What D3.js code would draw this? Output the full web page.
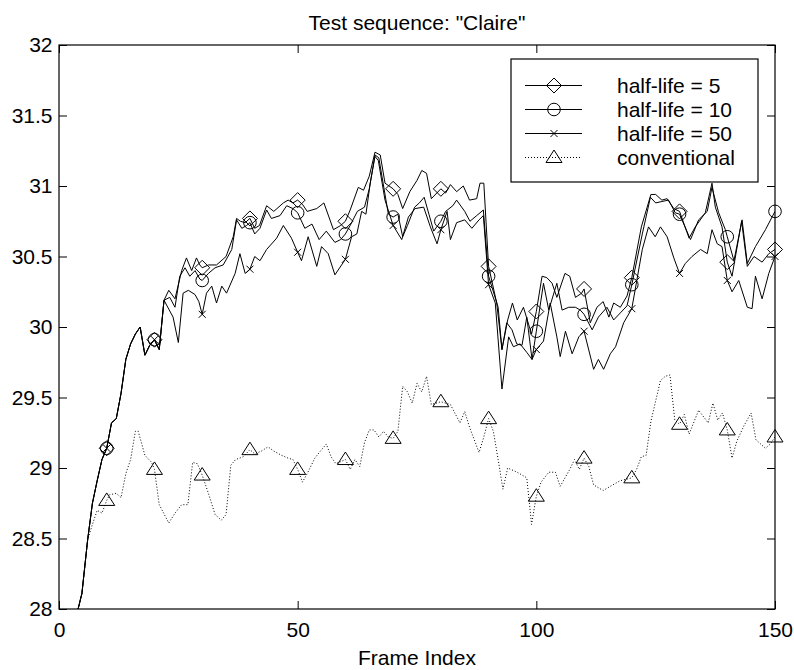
<!DOCTYPE html>
<html>
<head>
<meta charset="utf-8">
<script src="https://cdn.jsdelivr.net/npm/d3@7"></script>
<style>
body { margin: 0; background: #fff; }
text { font-family: Arial, "Liberation Sans", sans-serif; fill: #000; }
</style>
</head>
<body>
<div id="container"></div>
<script>
const w = 794
const h = 670
const plotL = 59, plotR = 775, plotT = 45, plotB = 609

const xTicks = [0, 50, 100, 150]
const yTicks = [28, 28.5, 29, 29.5, 30, 30.5, 31, 31.5, 32]
const seriesNames = ['half-life = 5', 'half-life = 10', 'half-life = 50', 'conventional']

// shared start of the three half-life curves (frame, PSNR)
const startRise = [[4,28.0],[4.8,28.11],[6,28.49],[7,28.75],[8,28.91],[9,29.06],[10,29.14],[11,29.32],[12,29.35],[13,29.53],[14,29.77],[15,29.88],[16,29.95],[17,30.0],[18,29.80],[19,29.87],[20,29.91],[21,29.84]]

const hl5 = [[22,30.19],[23,30.26],[24.3,30.2],[25.7,30.40],[26.7,30.49],[27.8,30.40],[28.8,30.49],[29.5,30.44],[30,30.42],[31.3,30.44],[33,30.44],[35,30.50],[36.5,30.64],[37.2,30.77],[38,30.75],[39,30.74],[40,30.77],[41,30.70],[42,30.72],[43.5,30.86],[45,30.82],[47,30.88],[48,30.90],[49,30.88],[50,30.90],[51,30.87],[52,30.82],[54,30.84],[55.5,30.88],[57.5,30.69],[59,30.72],[60,30.75],[61,30.83],[62.7,30.99],[63.8,30.97],[65,31.07],[66.2,31.24],[67.3,31.22],[68.3,31.02],[70,30.98],[71,30.94],[72,30.84],[73.5,30.96],[75,31.04],[76,31.11],[77,31.09],[78,30.91],[80,30.98],[81,30.95],[82,31.01],[83.3,30.96],[84.7,31.0],[86,30.90],[87.5,30.91],[88.2,31.02],[89,31.02],[90,30.43],[91.7,30.17],[92.8,29.84],[94,30.05],[95,30.17],[96,30.05],[97.3,30.14],[99,29.95],[100,30.11],[101.2,30.36],[102.2,30.35],[103.3,30.31],[104.3,30.21],[106,30.38],[107,30.36],[108.2,30.21],[109.5,30.24],[110,30.27],[111.3,30.03],[112.7,30.14],[114,30.18],[115.2,30.07],[116.2,30.17],[117.6,30.14],[119,30.22],[120,30.35],[122,30.71],[124,30.94],[125,30.94],[126.3,30.90],[127.4,30.91],[128.8,30.84],[130,30.82],[132,30.63],[133.3,30.71],[135.4,30.81],[136.8,31.02],[137.5,30.85],[138.9,30.71],[140,30.46],[141,30.36],[143,30.75],[144.2,30.43],[145.6,30.50],[147.3,30.46],[148.7,30.52],[150,30.55]]

const hl10 = [[22,30.19],[23.2,30.21],[24.3,30.14],[25.3,30.36],[26.4,30.42],[27.4,30.36],[28.5,30.40],[29.5,30.34],[30,30.33],[31.3,30.38],[32.7,30.42],[34.4,30.44],[36.2,30.55],[37.2,30.76],[38.3,30.70],[39.3,30.72],[40,30.74],[41,30.66],[42.1,30.70],[43.5,30.83],[44.5,30.77],[46.3,30.79],[47.7,30.86],[49,30.84],[50,30.81],[51.5,30.70],[53,30.73],[54.5,30.62],[56,30.68],[57.8,30.60],[59,30.62],[60,30.66],[61,30.72],[62.5,30.82],[64,30.85],[65,30.98],[66.2,31.22],[67,31.20],[68,31.00],[69,30.80],[70,30.78],[71,30.80],[72,30.64],[73,30.72],[74.5,30.85],[75.5,30.88],[76.5,30.92],[77.5,30.80],[78.5,30.68],[80,30.75],[81,30.82],[82.5,30.86],[83.3,30.90],[85,30.82],[86.1,30.75],[87.5,30.79],[88.9,30.83],[90,30.36],[92,30.14],[92.8,29.84],[93.8,30.03],[94.9,29.98],[95.9,29.88],[97,29.87],[98,30.07],[99.1,29.77],[100,29.97],[101.5,30.31],[102.6,30.12],[104.3,30.31],[105.4,30.12],[106.8,30.14],[108.2,30.14],[109.2,30.12],[110,30.09],[111.7,29.98],[113,30.07],[114.8,30.14],[116.2,30.05],[117.6,30.10],[119,30.15],[120,30.30],[122.2,30.66],[123.9,30.92],[125,30.88],[126.3,30.89],[127.7,30.90],[129.1,30.81],[130,30.80],[132.3,30.62],[134,30.76],[135.8,30.82],[136.8,30.99],[138.2,30.81],[139.6,30.69],[140,30.64],[141.4,30.47],[143.1,30.76],[144.2,30.45],[145.9,30.57],[148,30.69],[150,30.82]]

const hl50 = [[22,30.19],[23.9,30.07],[25,29.89],[26,30.24],[27.1,30.26],[28.5,30.23],[29.3,30.18],[30,30.09],[30.9,30.24],[32,30.29],[33,30.17],[34.1,30.29],[35.1,30.24],[36.9,30.38],[37.9,30.52],[39,30.38],[40,30.41],[41,30.50],[42.1,30.47],[43.5,30.55],[45.6,30.63],[47,30.72],[48.7,30.63],[50,30.53],[50.8,30.47],[52.2,30.64],[54,30.43],[55,30.57],[56.4,30.52],[57.8,30.37],[60,30.48],[61.3,30.64],[62.4,30.66],[63.4,30.82],[64.3,30.80],[65.2,31.02],[66.2,31.21],[66.9,31.18],[68.3,30.90],[70,30.72],[71.8,30.62],[73.2,30.78],[74.6,30.84],[76.4,30.85],[77.8,30.71],[79.2,30.59],[80,30.69],[81.3,30.82],[82,30.62],[83.3,30.74],[85,30.76],[86.5,30.70],[88,30.76],[88.9,30.79],[90,30.30],[91.4,30.17],[92.8,29.56],[94.2,29.93],[95.2,29.86],[96.6,29.88],[98,29.82],[99.1,29.77],[100,29.84],[101.5,29.90],[102.9,30.17],[104.3,29.93],[105,29.79],[106.1,29.97],[107.5,29.81],[108.9,29.93],[110,29.97],[112,29.70],[113,29.77],[114.1,29.70],[115.5,29.81],[116.6,29.86],[118.3,30.03],[120,30.13],[122.2,30.55],[123.5,30.71],[124.9,30.64],[126,30.71],[127.4,30.64],[128.8,30.49],[130,30.38],[131.2,30.45],[132.6,30.50],[134.4,30.55],[135.8,30.52],[136.8,30.69],[137.9,30.59],[138.9,30.57],[140,30.33],[141,30.25],[142.4,30.33],[144.2,30.14],[145.2,30.13],[145.9,30.36],[147.3,30.20],[148.7,30.38],[150,30.50]]

const conventional = [[4,28.0],[4.8,28.11],[6,28.49],[7,28.6],[8,28.70],[9,28.68],[10,28.77],[10.6,28.81],[12,28.82],[13,28.79],[14,28.96],[15,29.06],[16,29.26],[16.6,29.26],[18,29.09],[19.4,29.04],[20,28.99],[21,28.74],[23,28.61],[24.3,28.68],[25.7,28.74],[27,28.74],[28,29.04],[29,29.03],[30,28.95],[31.3,28.82],[32.7,28.67],[34,28.63],[35,28.67],[36,29.02],[37,29.06],[38.6,29.08],[40,29.13],[41,29.10],[42.4,29.12],[43.8,29.15],[45,29.12],[46.6,29.09],[48,29.07],[49,29.06],[50,28.99],[51,28.90],[52,28.96],[53.6,29.07],[55,29.13],[56,29.17],[57,29.08],[58,29.03],[60,29.06],[61,28.99],[62,29.06],[63,29.01],[64,29.18],[65,29.27],[66,29.27],[67,29.22],[68,29.26],[69,29.22],[70,29.21],[71,29.26],[72,29.58],[73,29.54],[74,29.46],[75,29.60],[76,29.54],[77,29.65],[78,29.45],[80,29.47],[82,29.45],[84,29.32],[85,29.40],[86,29.29],[88,29.11],[89,29.22],[90,29.35],[91,29.26],[92,29.06],[93,28.85],[94,29.00],[96,28.97],[98,28.93],[99,28.60],[100,28.80],[101,28.90],[102.6,28.97],[104,28.97],[105,28.87],[107,28.99],[108,29.06],[109,28.99],[110,29.07],[111,29.01],[112,28.88],[114,28.84],[116,28.88],[117.6,28.91],[120,28.93],[121,28.99],[122,29.08],[123,29.09],[124,29.33],[126,29.62],[127,29.65],[128,29.66],[129,29.34],[130,29.31],[131,29.38],[132,29.24],[134,29.41],[136,29.32],[137,29.46],[138,29.34],[139,29.39],[140,29.27],[141,29.07],[142,29.19],[143.5,29.30],[145,29.39],[146,29.20],[148,29.14],[149,29.17],[150,29.22]]

const x = d3.scaleLinear([0, 150], [plotL, plotR])
const y = d3.scaleLinear([28, 32], [plotB, plotT])

const svg = d3.select('#container')
    .append('svg')
    .attr('width', w)
    .attr('height', h)

svg.append('rect').attr('width', w).attr('height', h).attr('fill', '#fff')

svg.append('clipPath').attr('id', 'clip')
    .append('rect')
    .attr('x', plotL).attr('y', plotT)
    .attr('width', plotR - plotL).attr('height', plotB - plotT)

// marker shapes
const markerPath = {
    diamond: 'M0,-7.5L7.5,0L0,7.5L-7.5,0Z',
    cross: 'M-3.5,-3.5L3.5,3.5M-3.5,3.5L3.5,-3.5',
    triangle: 'M0,-7.5L8,5L-8,5Z'
}

function drawMarker(g, kind, cx, cy) {
    if (kind === 'circle') {
        g.append('circle').attr('cx', cx).attr('cy', cy).attr('r', 6.3)
            .attr('fill', 'none').attr('stroke', '#000').attr('stroke-width', 1)
    } else {
        g.append('path').attr('d', markerPath[kind])
            .attr('transform', `translate(${cx},${cy})`)
            .attr('fill', 'none').attr('stroke', '#000').attr('stroke-width', 1)
    }
}

const series = [
    { name: seriesNames[0], pts: startRise.concat(hl5), marker: 'diamond', dash: null },
    { name: seriesNames[1], pts: startRise.concat(hl10), marker: 'circle', dash: null },
    { name: seriesNames[2], pts: startRise.concat(hl50), marker: 'cross', dash: null },
    { name: seriesNames[3], pts: conventional, marker: 'triangle', dash: '1,2' }
]

const line = d3.line().x(d => x(d[0])).y(d => y(d[1]))

const plot = svg.append('g').attr('clip-path', 'url(#clip)')

series.forEach(s => {
    plot.append('path')
        .datum(s.pts)
        .attr('d', line)
        .attr('fill', 'none')
        .attr('stroke', '#000')
        .attr('stroke-width', 1)
        .attr('stroke-dasharray', s.dash)
    const mg = svg.append('g')
    s.pts.filter(d => d[0] % 10 === 0).forEach(d => drawMarker(mg, s.marker, x(d[0]), y(d[1])))
})

// axes (MATLAB style box with inward ticks)
const axisB = d3.axisBottom(x).tickValues(xTicks).tickSize(-8).tickPadding(13).tickFormat(d3.format('d'))
const axisT = d3.axisTop(x).tickValues(xTicks).tickSize(-8).tickFormat('')
const axisL = d3.axisLeft(y).tickValues(yTicks).tickSize(-8).tickPadding(6.5).tickFormat(d => String(d))
const axisR = d3.axisRight(y).tickValues(yTicks).tickSize(-8).tickFormat('')

function styleAxis(g) {
    g.select('.domain').remove()
    g.selectAll('line').attr('stroke', '#000')
    g.selectAll('text').attr('font-size', 21).attr('font-family', 'Arial, "Liberation Sans", sans-serif')
}

svg.append('g').attr('transform', `translate(0,${plotB})`).call(axisB).call(styleAxis)
svg.append('g').attr('transform', `translate(0,${plotT})`).call(axisT).call(styleAxis)
svg.append('g').attr('transform', `translate(${plotL},0)`).call(axisL).call(styleAxis)
svg.append('g').attr('transform', `translate(${plotR},0)`).call(axisR).call(styleAxis)

svg.append('rect')
    .attr('x', plotL).attr('y', plotT)
    .attr('width', plotR - plotL).attr('height', plotB - plotT)
    .attr('fill', 'none').attr('stroke', '#000').attr('stroke-width', 1.2)

svg.append('text')
    .attr('x', (plotL + plotR) / 2).attr('y', 29.5)
    .attr('text-anchor', 'middle').attr('font-size', 21)
    .text('Test sequence: "Claire"')

svg.append('text')
    .attr('x', (plotL + plotR) / 2).attr('y', 665)
    .attr('text-anchor', 'middle').attr('font-size', 21)
    .text('Frame Index')

// legend
const legend = svg.append('g').attr('id', 'legend')
legend.append('rect')
    .attr('x', 511).attr('y', 59).attr('width', 247).attr('height', 123)
    .attr('fill', '#fff').attr('stroke', '#000').attr('stroke-width', 1.2)

series.forEach((s, i) => {
    const cy = 85.5 + i * 24
    legend.append('line')
        .attr('x1', 525).attr('x2', 582).attr('y1', cy).attr('y2', cy)
        .attr('stroke', '#000').attr('stroke-width', 1)
        .attr('stroke-dasharray', s.dash)
    drawMarker(legend, s.marker, 554, cy)
    legend.append('text')
        .attr('x', 617).attr('y', cy + 7.3)
        .attr('font-size', 21)
        .text(s.name)
})
</script>
</body>
</html>
